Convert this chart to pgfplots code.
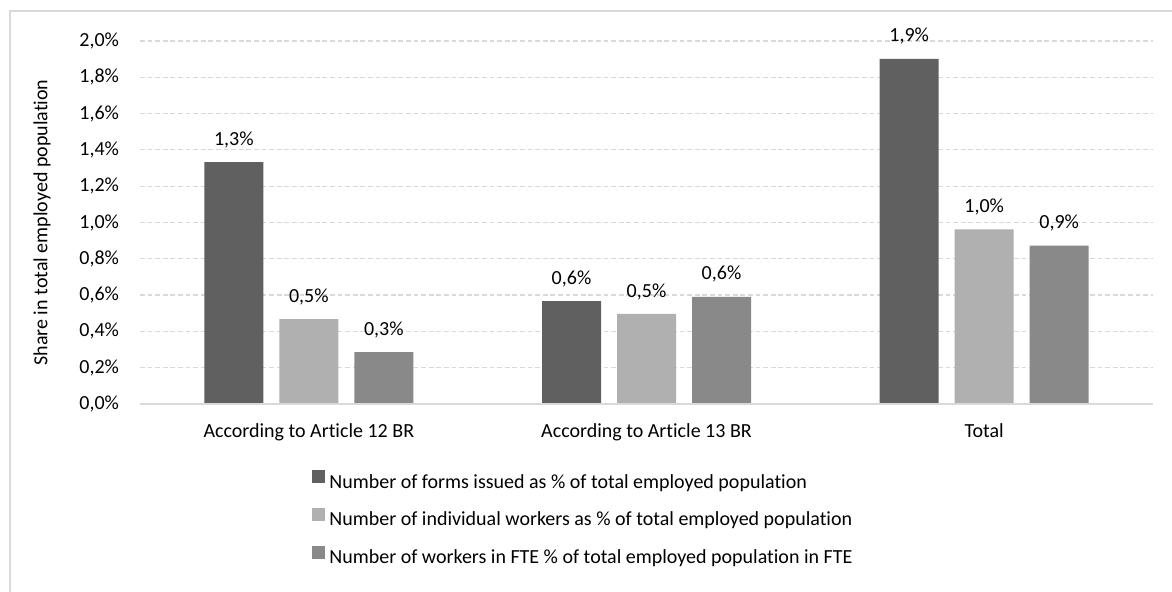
\documentclass[border=0pt]{standalone}
\usepackage{pgfplots}
\pgfplotsset{compat=1.18}
\usepackage{fontspec}
\setmainfont{Carlito}[Ligatures={NoCommon}]
\definecolor{gridc}{HTML}{D9D9D9}
\definecolor{cA}{HTML}{606060}
\definecolor{cB}{HTML}{B0B0B0}
\definecolor{cC}{HTML}{898989}
\begin{document}
\fontsize{10}{12}\selectfont
\begin{tikzpicture}
\useasboundingbox (0pt,0pt) rectangle (586pt,296pt);
\fill[white] (0pt,0pt) rectangle (586pt,296pt);
\draw[gridc,line width=1.2pt] (5pt,0pt) -- (5pt,290.5pt) -- (586pt,290.5pt);
\begin{axis}[
  at={(70pt,94pt)}, anchor=south west,
  scale only axis, width=506.5pt, height=181.5pt,
  xmin=-0.5, xmax=2.5, ymin=0, ymax=2,
  ybar=8pt, bar width=29.5pt,
  xtick={0,1,2},
  xticklabels={According to Article 12 BR, According to Article 13 BR, Total},
  ytick={0,0.2,...,2.01},
  yticklabel={\pgfmathprintnumber[fixed,fixed zerofill,precision=1,use comma]{\tick}\%},
  /pgf/number format/assume math mode=true,
  major tick length=0pt,
  axis line style={draw=none},
  ymajorgrids,
  grid style={gridc,line width=0.6pt,dash pattern=on 2.4pt off 1.4pt},
  yticklabel style={xshift=-7pt,font=\fontsize{10}{12}\selectfont},
  xticklabel style={yshift=-6.5pt,font=\fontsize{10}{12}\selectfont},
  ylabel={Share in total employed population},
  ylabel style={at={(axis description cs:-0.0967,0.5)},anchor=center,font=\fontsize{10}{12}\selectfont},
  nodes near coords={\pgfmathprintnumber[fixed,fixed zerofill,precision=1,use comma]{\pgfplotspointmeta}\%},
  nodes near coords style={anchor=south,inner sep=0pt,yshift=7pt,font=\fontsize{10}{12}\selectfont},
  legend cell align=left,
  legend style={at={(axis description cs:0.1698,-0.181)},anchor=north west,draw=none,fill=none,
    inner sep=0pt,row sep=6.3pt,column sep=0pt,
    nodes={inner sep=1pt,text height=8pt,text depth=2.5pt},
    font=\fontsize{10}{12}\selectfont},
  legend image code/.code={\fill[#1] (0pt,-0.4pt) rectangle (6.5pt,6.1pt); \path (7.5pt,0pt);},
  clip=false,
]
\addplot[fill=cA,draw=none] coordinates {(0,1.333) (1,0.567) (2,1.902)};
\addplot[fill=cB,draw=none] coordinates {(0,0.468) (1,0.496) (2,0.962)};
\addplot[fill=cC,draw=none] coordinates {(0,0.286) (1,0.590) (2,0.872)};
\legend{Number of forms issued as \% of total employed population,
Number of individual workers as \% of total employed population,
Number of workers in FTE \% of total employed population in FTE}
\draw[gridc,line width=0.75pt] (axis description cs:0,0) -- (axis description cs:1,0);
\end{axis}
\end{tikzpicture}
\end{document}
